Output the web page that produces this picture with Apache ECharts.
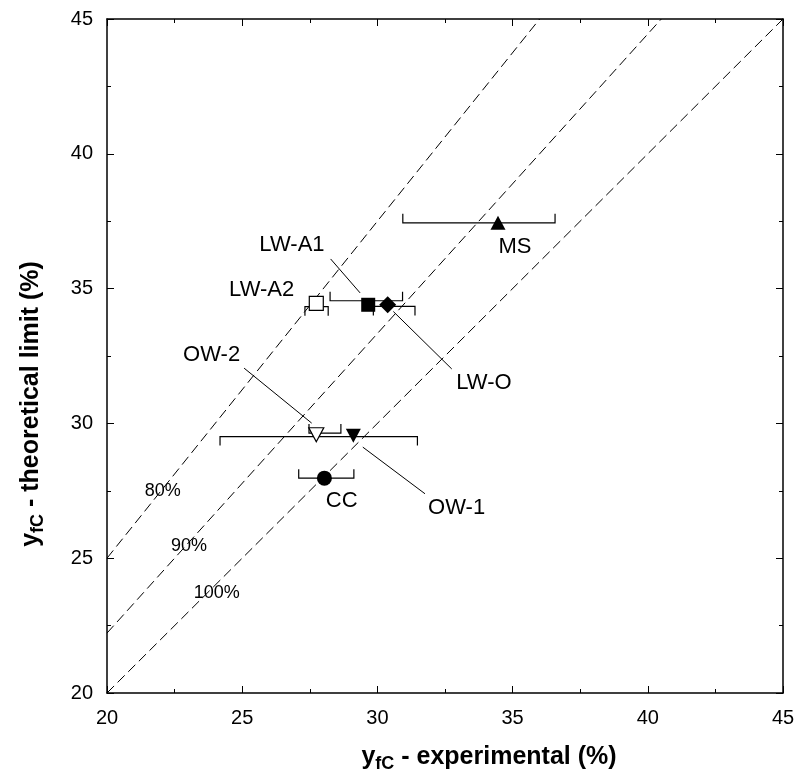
<!DOCTYPE html>
<html>
<head>
<meta charset="utf-8">
<script src="https://cdn.jsdelivr.net/npm/echarts@6/dist/echarts.min.js"></script>
<style>
html, body { margin: 0; padding: 0; background: #fff; }
#chart { width: 800px; height: 783px; }
</style>
</head>
<body>
<div id="chart"></div>
<script>
// samples
var names    = ['MS', 'LW-A1', 'LW-A2', 'LW-O', 'OW-2', 'OW-1', 'CC'];
var expX     = [34.46, 29.66, 27.74, 30.38, 27.74, 29.11, 28.04];
var theoY    = [37.44, 34.40, 34.45, 34.40, 29.58, 29.54, 27.97];
var errLow   = [30.94, 28.25, 27.32, 29.85, 27.47, 24.18, 27.09];
var errHigh  = [36.57, 30.93, 28.18, 31.39, 28.65, 31.48, 29.13];
var errBarY  = [37.44, 34.55, 34.33, 34.34, 29.64, 29.51, 27.97];
var capDir   = [1, 1, -1, -1, 1, -1, 1];

// efficiency reference lines
var effRatio = [0.8, 0.9, 1.0];
var effNames = ['80%', '90%', '100%'];

var ticks = [20, 25, 30, 35, 40, 45];

// annotation layout (data units)
var labelX = [35.09, 26.84, 25.72, 33.94, 23.87, 32.93, 28.68];
var labelY = [36.53, 36.63, 34.96, 31.51, 32.55, 26.87, 27.11];
var leaders = [
  [28.27, 36.10, 29.36, 34.84],
  [30.59, 34.15, 32.75, 32.02],
  [25.07, 32.05, 27.57, 30.01],
  [29.46, 29.12, 31.76, 27.39]
];
var effLabelX = [22.06, 23.03, 24.06];
var effLabelY = [27.48, 25.46, 23.71];

var FONT = '"Liberation Sans", Arial, sans-serif';
var symbols = ['triangle', 'rect', 'rect', 'diamond', 'triangle', 'triangle', 'circle'];
var symSize = [[15, 14], 14, 14, 17, [15, 14], [15, 14], 15];
var filled  = [true, true, false, true, false, true, true];
var rotate  = [0, 0, 0, 0, 180, 180, 0];

var chart = echarts.init(document.getElementById('chart'), null, {renderer: 'canvas'});

var effSeries = effRatio.map(function (r, k) {
  var xEnd = Math.min(ticks[ticks.length - 1], ticks[ticks.length - 1] * r);
  return {
    type: 'line',
    name: effNames[k],
    data: [[ticks[0], ticks[0] / r], [xEnd, xEnd / r]],
    symbol: 'none',
    silent: true,
    z: 1,
    lineStyle: {color: '#000', width: 1, type: [10, 5]}
  };
});

var pointData = names.map(function (n, i) {
  return {
    name: n,
    value: [expX[i], theoY[i]],
    symbol: symbols[i],
    symbolSize: symSize[i],
    symbolRotate: rotate[i],
    itemStyle: {
      color: filled[i] ? '#000' : '#fff',
      borderColor: '#000',
      borderWidth: filled[i] ? 0 : 1.2,
      opacity: 1
    }
  };
});

var errData = names.map(function (n, i) {
  return [errLow[i], errHigh[i], errBarY[i], capDir[i]];
});

var axisCommon = {
  type: 'value', min: 20, max: 45, interval: 5,
  splitLine: {show: false},
  axisLine: {show: true, onZero: false, lineStyle: {color: '#000', width: 1.5}},
  axisTick: {show: true, inside: true, length: 7, lineStyle: {color: '#000', width: 1}},
  minorTick: {show: true, splitNumber: 2, length: 4, lineStyle: {color: '#000', width: 1}},
  minorSplitLine: {show: false}
};

function ax(extra) {
  return Object.assign({}, axisCommon, extra);
}

var titleRich = {
  y: {fontSize: 25, fontWeight: 'bold', fontFamily: FONT, color: '#000'},
  s: {fontSize: 18, fontWeight: 'bold', fontFamily: FONT, color: '#000', padding: [13, 0, 0, 0]},
  t: {fontSize: 25, fontWeight: 'bold', fontFamily: FONT, color: '#000'}
};

var option = {
  animation: false,
  backgroundColor: '#fff',
  textStyle: {fontFamily: FONT},
  grid: {left: 107, top: 19, width: 676, height: 674, containLabel: false},
  xAxis: [
    ax({
      position: 'bottom',
      axisLabel: {color: '#000', fontSize: 20, margin: 15, fontFamily: FONT},
      name: '{y|y}{s|fC}{t| - experimental (%)}',
      nameLocation: 'middle',
      nameGap: 49,
      nameTextStyle: {color: '#000', fontFamily: FONT, padding: [0, 0, 0, 88], rich: titleRich}
    }),
    ax({position: 'top', axisLabel: {show: false}})
  ],
  yAxis: [
    ax({
      position: 'left',
      axisLabel: {color: '#000', fontSize: 20, margin: 14, fontFamily: FONT},
      name: '{y|y}{s|fC}{t| - theoretical limit (%)}',
      nameLocation: 'middle',
      nameGap: 60,
      nameTextStyle: {color: '#000', fontFamily: FONT, padding: [0, 96, 0, 0], rich: titleRich}
    }),
    ax({position: 'right', axisLabel: {show: false}})
  ],
  series: effSeries.concat([
    {
      type: 'custom',
      name: 'error bars',
      data: errData,
      encode: {x: [0, 1], y: 2},
      clip: false,
      z: 2,
      renderItem: function (params, api) {
        var p1 = api.coord([api.value(0), api.value(2)]);
        var p2 = api.coord([api.value(1), api.value(2)]);
        var c = api.value(3) * 9;
        return {
          type: 'polyline',
          shape: {points: [[p1[0], p1[1] - c], [p1[0], p1[1]], [p2[0], p2[1]], [p2[0], p2[1] - c]]},
          style: {stroke: '#000', lineWidth: 1.2, fill: null}
        };
      }
    },
    {
      type: 'custom',
      name: 'leaders',
      data: leaders,
      encode: {x: [0, 2], y: [1, 3]},
      z: 2,
      renderItem: function (params, api) {
        var a = api.coord([api.value(0), api.value(1)]);
        var b = api.coord([api.value(2), api.value(3)]);
        return {
          type: 'line',
          shape: {x1: a[0], y1: a[1], x2: b[0], y2: b[1]},
          style: {stroke: '#000', lineWidth: 1}
        };
      }
    },
    {
      type: 'scatter',
      name: 'samples',
      data: pointData,
      z: 5
    },
    {
      type: 'custom',
      name: 'labels',
      data: labelX.map(function (x, i) { return [x, labelY[i]]; }),
      z: 6,
      renderItem: function (params, api) {
        var p = api.coord([api.value(0), api.value(1)]);
        return {
          type: 'text',
          x: p[0], y: p[1],
          style: {text: names[params.dataIndex], fill: '#000', font: '22px ' + FONT, align: 'center', verticalAlign: 'middle'}
        };
      }
    },
    {
      type: 'custom',
      name: 'eff labels',
      data: effLabelX.map(function (x, i) { return [x, effLabelY[i]]; }),
      z: 6,
      renderItem: function (params, api) {
        var p = api.coord([api.value(0), api.value(1)]);
        return {
          type: 'text',
          x: p[0], y: p[1],
          style: {text: effNames[params.dataIndex], fill: '#000', font: '18px ' + FONT, align: 'center', verticalAlign: 'middle'}
        };
      }
    }
  ])
};

chart.setOption(option);
</script>
</body>
</html>
